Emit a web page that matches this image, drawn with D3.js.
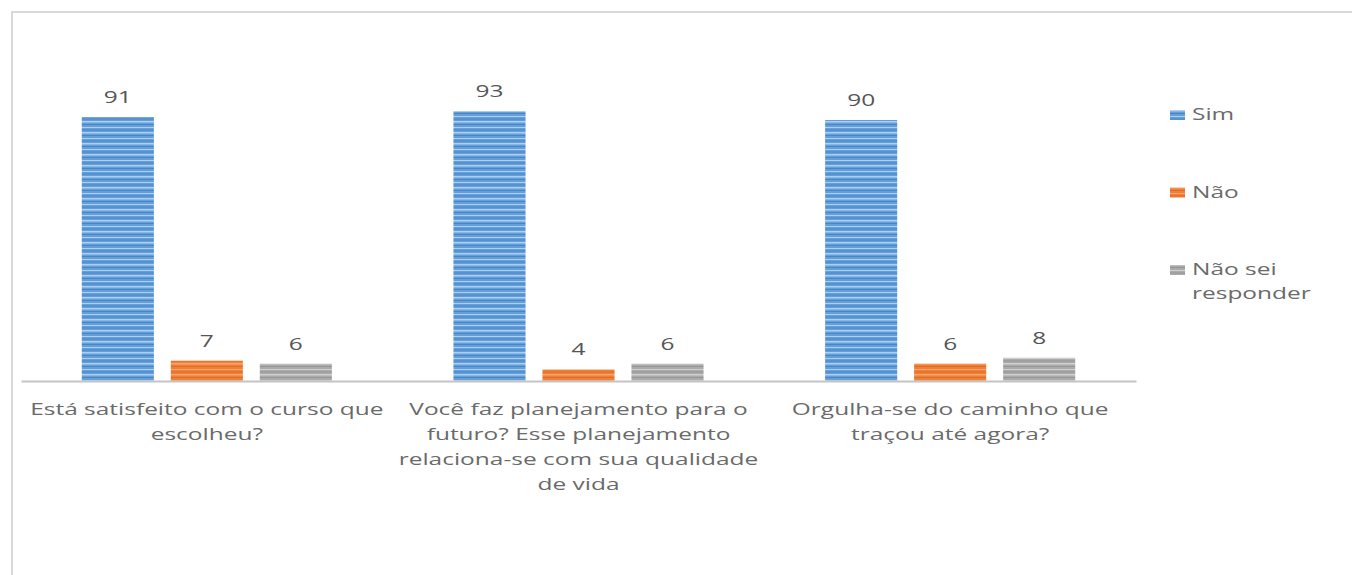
<!DOCTYPE html>
<html>
<head>
<meta charset="utf-8">
<script src="https://cdn.jsdelivr.net/npm/d3@7"></script>
<style>
  html, body { margin: 0; padding: 0; background: #fff; }
  svg { display: block; }
</style>
</head>
<body>
<svg id="chart" width="1352" height="575"></svg>
<script>
// Survey questions (categories) and answer series
const categories = [
  "Está satisfeito com o curso que escolheu?",
  "Você faz planejamento para o futuro? Esse planejamento relaciona-se com sua qualidade de vida",
  "Orgulha-se do caminho que traçou até agora?"
];
const seriesNames = ["Sim", "Não", "Não sei responder"];
const simValues = [91, 93, 90];
const naoValues = [7, 4, 6];
const naoSeiValues = [6, 6, 8];
const seriesValues = [simValues, naoValues, naoSeiValues];

const colors = ["#659fd9", "#ef8036", "#ababab"];
const lightStripe = ["#acd0f1", "#f6a56d", "#cfcfcf"];
const darkStripe = ["#4786c9", "#e26b2b", "#969696"];

const FONT = "'Open Sans', 'DejaVu Sans', sans-serif";
const FONT_SIZE = 17;
const STRETCH = 1.44;   // horizontal stretch applied to all text

const svg = d3.select("#chart");

// outer frame
svg.append("rect")
  .attr("x", 12).attr("y", 12)
  .attr("width", 1400).attr("height", 600)
  .attr("fill", "#fff")
  .attr("stroke", "#d9d9d9").attr("stroke-width", 2);

// striped fills for the bars
const defs = svg.append("defs");
seriesNames.forEach((s, i) => {
  const p = defs.append("pattern")
    .attr("id", "stripe" + i)
    .attr("patternUnits", "userSpaceOnUse")
    .attr("width", 10).attr("height", 11);
  p.append("rect").attr("width", 10).attr("height", 11).attr("fill", colors[i]);
  p.append("rect").attr("y", 0).attr("width", 10).attr("height", 1.5).attr("fill", lightStripe[i]);
  p.append("rect").attr("y", 3).attr("width", 10).attr("height", 1).attr("fill", darkStripe[i]);
  p.append("rect").attr("y", 6).attr("width", 10).attr("height", 1).attr("fill", lightStripe[i]);
  p.append("rect").attr("y", 8.5).attr("width", 10).attr("height", 1).attr("fill", darkStripe[i]);
});

const plotLeft = 21, plotRight = 1136, baseY = 381;

const x0 = d3.scaleBand().domain(categories).range([plotLeft, plotRight]).padding(0);
const x1 = d3.scaleBand().domain(seriesNames).range([0, x0.step()])
  .paddingInner(0.19).paddingOuter(0.683);
const y = d3.scaleLinear().domain([0, 100]).range([baseY, 91]);

// text helper: stretched horizontally around its anchor point
function stretchedText(sel, tx, ty, anchor) {
  return sel.append("text")
    .attr("transform", `translate(${tx},${ty}) scale(${STRETCH},1)`)
    .attr("text-anchor", anchor)
    .attr("font-family", FONT)
    .attr("font-size", FONT_SIZE);
}

// bars + value labels
const groups = svg.append("g").selectAll("g")
  .data(categories)
  .join("g")
  .attr("transform", d => `translate(${x0(d)},0)`);

groups.each(function (cat, ci) {
  const g = d3.select(this);
  seriesNames.forEach((s, si) => {
    const v = seriesValues[si][ci];
    g.append("rect")
      .attr("x", x1(s))
      .attr("y", y(v))
      .attr("width", x1.bandwidth())
      .attr("height", y(0) - y(v))
      .attr("fill", `url(#stripe${si})`);
    stretchedText(g, x1(s) + x1.bandwidth() / 2, y(v) - 14, "middle")
      .attr("fill", "#555555")
      .text(v);
  });
});

// category axis line
const xAxis = d3.axisBottom(x0).tickSize(0).tickFormat("");
const axisG = svg.append("g").attr("transform", `translate(0,${baseY})`).call(xAxis);
axisG.select(".domain").attr("stroke", "#c4c4c4").attr("stroke-width", 2);

// wrapped category labels
const maxLineWidth = 365 / STRETCH;
const measure = svg.append("text").attr("font-family", FONT).attr("font-size", FONT_SIZE);
function wrap(str) {
  const words = str.split(" ");
  const lines = [];
  let line = "";
  words.forEach(w => {
    const t = line ? line + " " + w : w;
    measure.text(t);
    if (measure.node().getComputedTextLength() > maxLineWidth && line) {
      lines.push(line);
      line = w;
    } else {
      line = t;
    }
  });
  if (line) lines.push(line);
  return lines;
}

categories.forEach(cat => {
  const cx = x0(cat) + x0.bandwidth() / 2;
  wrap(cat).forEach((ln, li) => {
    stretchedText(svg, cx, 415 + li * 25, "middle")
      .attr("fill", "#6a6a6a")
      .text(ln);
  });
});
measure.remove();

// legend
const legendRows = [["Sim"], ["Não"], ["Não sei", "responder"]];
seriesNames.forEach((s, i) => {
  const ly = 120 + i * 77.5;
  svg.append("rect")
    .attr("x", 1170).attr("y", ly - 10)
    .attr("width", 15).attr("height", 10)
    .attr("fill", `url(#stripe${i})`);
  legendRows[i].forEach((t, k) => {
    stretchedText(svg, 1192, ly + k * 24, "start")
      .attr("fill", "#6a6a6a")
      .text(t);
  });
});
</script>
</body>
</html>
